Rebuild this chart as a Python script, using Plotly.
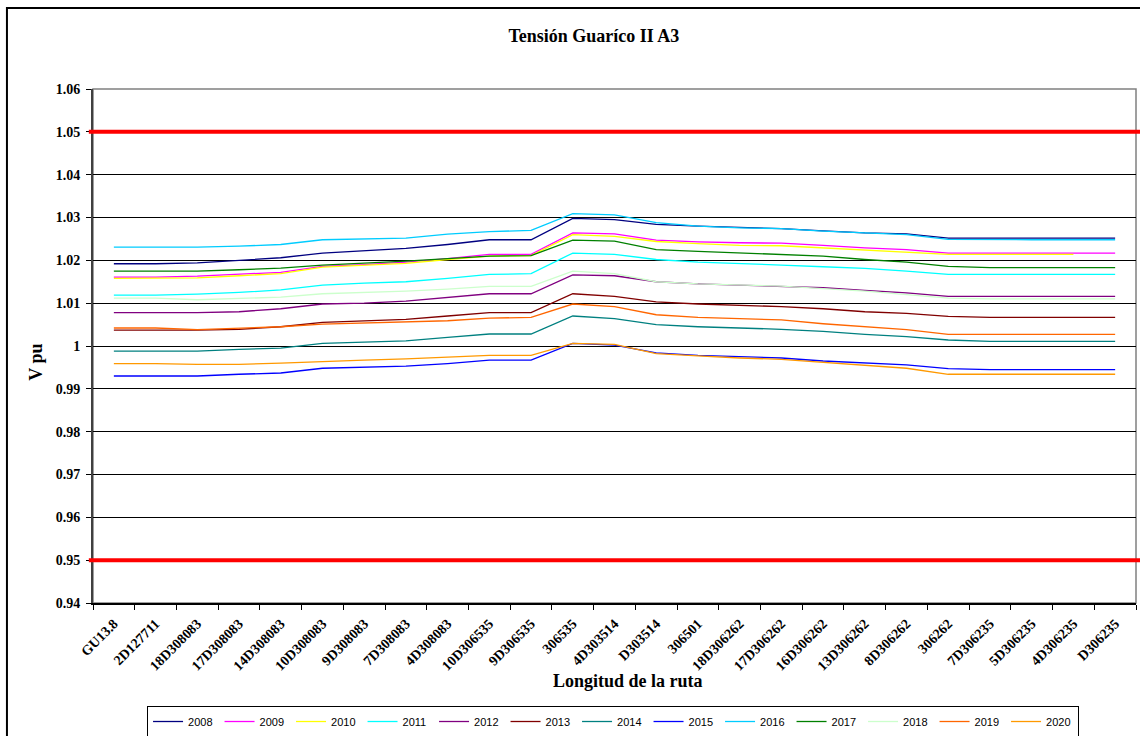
## Tension Guarico II A3 - voltage profile by year ##

import plotly.graph_objects as go

# nodes along the route
nodes = ['GU13.8', '2D127711', '18D308083', '17D308083', '14D308083', '10D308083',
         '9D308083', '7D308083', '4D308083', '10D306535', '9D306535', '306535',
         '4D303514', 'D303514', '306501', '18D306262', '17D306262', '16D306262',
         '13D306262', '8D306262', '306262', '7D306235', '5D306235', '4D306235', 'D306235']

# voltage in pu for each year
v2008 = [1.0192, 1.0192, 1.0194, 1.0200, 1.0206, 1.0217, 1.0223, 1.0228, 1.0237, 1.0248, 1.0248,
         1.0298, 1.0295, 1.0284, 1.0280, 1.0277, 1.0274, 1.0269, 1.0264, 1.0262, 1.0252,
         1.0252, 1.0252, 1.0252, 1.0252]
v2009 = [1.0161, 1.0161, 1.0163, 1.0167, 1.0172, 1.0186, 1.0190, 1.0196, 1.0204, 1.0214, 1.0214,
         1.0264, 1.0262, 1.0247, 1.0243, 1.0241, 1.0240, 1.0235, 1.0229, 1.0225, 1.0217,
         1.0217, 1.0217, 1.0217, 1.0217]
v2010 = [1.0158, 1.0158, 1.0159, 1.0164, 1.0169, 1.0184, 1.0188, 1.0193, 1.0202, 1.0210, 1.0211,
         1.0260, 1.0256, 1.0244, 1.0239, 1.0235, 1.0234, 1.0229, 1.0224, 1.0220, 1.0214,
         1.0214, 1.0214, 1.0214, None]
v2011 = [1.0119, 1.0119, 1.0121, 1.0125, 1.0131, 1.0142, 1.0147, 1.0150, 1.0158, 1.0167, 1.0169,
         1.0217, 1.0214, 1.0202, 1.0196, 1.0193, 1.0189, 1.0185, 1.0181, 1.0175, 1.0167,
         1.0167, 1.0167, 1.0167, 1.0167]
v2012 = [1.0078, 1.0078, 1.0078, 1.0080, 1.0087, 1.0098, 1.0100, 1.0105, 1.0114, 1.0122, 1.0122,
         1.0166, 1.0164, 1.0150, 1.0145, 1.0142, 1.0140, 1.0136, 1.0130, 1.0124, 1.0116,
         1.0116, 1.0116, 1.0116, 1.0116]
v2013 = [1.0037, 1.0037, 1.0037, 1.0039, 1.0045, 1.0055, 1.0059, 1.0062, 1.0070, 1.0078, 1.0078,
         1.0122, 1.0116, 1.0103, 1.0098, 1.0095, 1.0092, 1.0087, 1.0080, 1.0076, 1.0069,
         1.0067, 1.0067, 1.0067, 1.0067]
v2014 = [0.9988, 0.9988, 0.9988, 0.9992, 0.9995, 1.0006, 1.0009, 1.0012, 1.0020, 1.0028, 1.0028,
         1.0070, 1.0064, 1.0050, 1.0045, 1.0042, 1.0039, 1.0034, 1.0027, 1.0022, 1.0014,
         1.0011, 1.0011, 1.0011, 1.0011]
v2015 = [0.9930, 0.9930, 0.9930, 0.9934, 0.9937, 0.9948, 0.9950, 0.9953, 0.9959, 0.9967, 0.9967,
         1.0006, 1.0002, 0.9984, 0.9978, 0.9975, 0.9972, 0.9965, 0.9960, 0.9956, 0.9947,
         0.9945, 0.9945, 0.9945, 0.9945]
v2016 = [1.0231, 1.0231, 1.0231, 1.0233, 1.0237, 1.0248, 1.0250, 1.0252, 1.0261, 1.0267, 1.0270,
         1.0309, 1.0306, 1.0288, 1.0280, 1.0276, 1.0274, 1.0268, 1.0264, 1.0260, 1.0249,
         1.0248, 1.0248, 1.0248, 1.0248]
v2017 = [1.0175, 1.0175, 1.0175, 1.0178, 1.0182, 1.0189, 1.0193, 1.0198, 1.0204, 1.0210, 1.0211,
         1.0247, 1.0245, 1.0225, 1.0221, 1.0217, 1.0214, 1.0210, 1.0202, 1.0196, 1.0186,
         1.0183, 1.0183, 1.0183, 1.0183]
v2018 = [1.0112, 1.0112, 1.0108, 1.0111, 1.0114, 1.0122, 1.0125, 1.0128, 1.0133, 1.0139, 1.0139,
         1.0175, 1.0169, 1.0150, 1.0145, 1.0142, 1.0140, 1.0134, 1.0128, 1.0120, 1.0112,
         1.0110, 1.0110, 1.0110, 1.0110]
v2019 = [1.0042, 1.0042, 1.0038, 1.0041, 1.0045, 1.0051, 1.0054, 1.0056, 1.0059, 1.0065, 1.0067,
         1.0098, 1.0092, 1.0073, 1.0067, 1.0064, 1.0061, 1.0052, 1.0045, 1.0038, 1.0027,
         1.0027, 1.0027, 1.0027, 1.0027]
v2020 = [0.9959, 0.9959, 0.9957, 0.9957, 0.9960, 0.9964, 0.9967, 0.9970, 0.9974, 0.9978, 0.9978,
         1.0006, 1.0004, 0.9982, 0.9977, 0.9972, 0.9969, 0.9962, 0.9956, 0.9948, 0.9934,
         0.9934, 0.9934, 0.9934, 0.9934]

years = ['2008', '2009', '2010', '2011', '2012', '2013', '2014',
         '2015', '2016', '2017', '2018', '2019', '2020']
values = [v2008, v2009, v2010, v2011, v2012, v2013, v2014,
          v2015, v2016, v2017, v2018, v2019, v2020]
colors = ['#000080', '#FF00FF', '#FFFF00', '#00FFFF', '#800080', '#800000', '#008080',
          '#0000FF', '#00CCFF', '#008000', '#CCFFCC', '#FF6600', '#FF9900']

# limits (red lines)
v_max = 1.05
v_min = 0.95

y_ticks = [0.94, 0.95, 0.96, 0.97, 0.98, 0.99, 1.00, 1.01, 1.02, 1.03, 1.04, 1.05, 1.06]
y_tick_labels = ['0.94', '0.95', '0.96', '0.97', '0.98', '0.99', '1',
                 '1.01', '1.02', '1.03', '1.04', '1.05', '1.06']

serif = 'Liberation Serif'

fig = go.Figure()
for name, vals, col in zip(years, values, colors):
    fig.add_trace(go.Scatter(x=nodes, y=vals, name=name, mode='lines',
                             line=dict(color=col, width=1.3)))

# red limit lines run across the whole plot area
for lim in [v_max, v_min]:
    fig.add_shape(type='line', xref='paper', yref='y', x0=-0.004, x1=1.01,
                  y0=lim, y1=lim, line=dict(color='#FF0000', width=4))

# grey frame of the plot area
fig.add_shape(type='rect', xref='paper', yref='paper', x0=0, x1=1, y0=0, y1=1,
              line=dict(color='#808080', width=1.5), layer='below')

# outer chart border
fig.add_shape(type='rect', xref='paper', yref='paper', x0=-0.0825, x1=1.2,
              y0=-0.4, y1=1.1576, line=dict(color='black', width=2))

# axis titles as annotations so they sit where the original has them
fig.add_annotation(text='Longitud de la ruta', xref='paper', yref='paper',
                   x=0.513, y=-0.152, xanchor='center', yanchor='middle', showarrow=False,
                   font=dict(family=serif, size=18, color='black', weight='bold'))
fig.add_annotation(text='V pu', xref='paper', yref='paper', textangle=-90,
                   x=-0.0549, y=0.469, xanchor='center', yanchor='middle', showarrow=False,
                   font=dict(family=serif, size=18, color='black', weight='bold'))

fig.update_layout(
    width=1140, height=736,
    margin=dict(l=93, r=4, t=89, b=133, autoexpand=False),
    paper_bgcolor='white', plot_bgcolor='white',
    title=dict(text='Tensión Guaríco II A3', x=0.521, xanchor='center',
               y=0.951, yanchor='middle',
               font=dict(family=serif, size=18, color='black', weight='bold')),
    showlegend=True,
    legend=dict(orientation='h', x=0.4986, xanchor='center', y=-0.2004, yanchor='top',
                bordercolor='black', borderwidth=1, bgcolor='white',
                font=dict(family='Liberation Sans', size=11, color='black'),
                itemwidth=30, entrywidth=26.5, tracegroupgap=0),
)

fig.update_xaxes(
    type='category', range=[-0.5, 24.5], tickson='boundaries', automargin=False,
    ticks='outside', ticklen=5, tickcolor='black', tickangle=-45, ticklabelstandoff=5,
    showline=True, linecolor='black', linewidth=2, showgrid=False,
    tickfont=dict(family=serif, size=14, color='black', weight='bold'),
)

fig.update_yaxes(
    range=[0.94, 1.06], tickvals=y_ticks, ticktext=y_tick_labels, automargin=False,
    ticks='outside', ticklen=5, tickcolor='black', ticklabelstandoff=3,
    showline=True, linecolor='#404040', linewidth=2,
    showgrid=True, gridcolor='black', gridwidth=1, zeroline=False,
    tickfont=dict(family=serif, size=14, color='black', weight='bold'),
)

# drop the default 8px page margin so the figure fills the window exactly
fig.write_html('out.html', config={'displayModeBar': False},
               post_script="document.body.style.margin = '0';")
